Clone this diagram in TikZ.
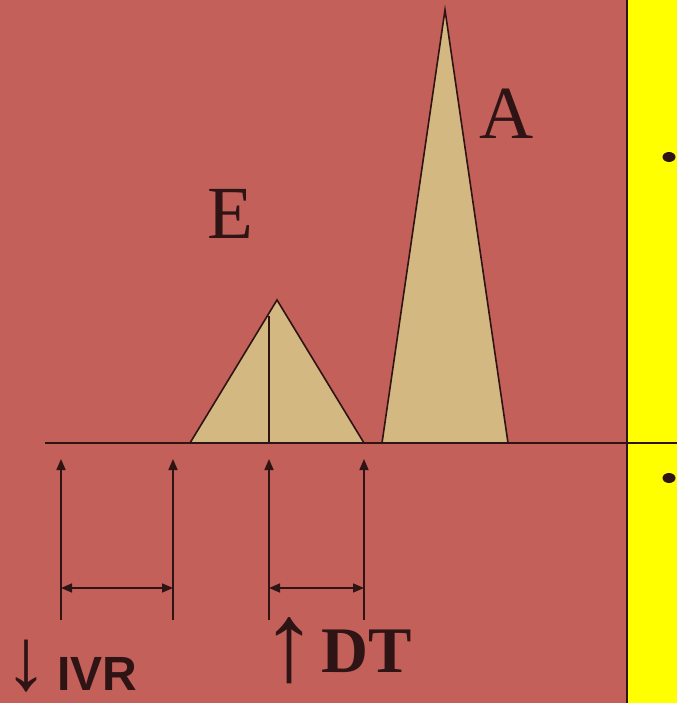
\documentclass[tikz,border=0pt]{standalone}
\usepackage{fontspec}
\setmainfont{Liberation Serif}
\newfontfamily\arialfont{Liberation Sans}
\usetikzlibrary{arrows.meta}
\definecolor{bgred}{RGB}{195,96,90}
\definecolor{peak}{RGB}{212,184,130}
\definecolor{ink}{RGB}{46,20,20}
\definecolor{ylw}{RGB}{255,255,0}
\tikzset{
  ink line/.style={draw=ink, line width=1.6pt},
  peak shape/.style={ink line, fill=peak, line join=miter},
  marker/.style={ink line, -{Triangle[length=11pt,width=9pt]}},
  span/.style={ink line, {Triangle[length=11pt,width=9pt]}-{Triangle[length=11pt,width=9pt]}},
  biglabel/.style={text=ink, font=\fontsize{75}{75}\selectfont, anchor=base, inner sep=0pt},
}
\begin{document}
\begin{tikzpicture}[x=1pt,y=-1pt]
\useasboundingbox (0,0) rectangle (677,703);
\fill[bgred] (0,0) rectangle (627,703);
\fill[ylw] (627,0) rectangle (677,703);
% peaks
\draw[peak shape] (190,443) -- (277,300) -- (364,443);
\draw[ink line] (269,316) -- (269,443);
\draw[peak shape] (382,443) -- (445,10) -- (508,443);
% baseline and divider
\draw[ink line] (45,443) -- (677,443);
\draw[ink line] (627,0) -- (627,703);
% labels
\node[biglabel] (E) at (230,238) {E};
\node[biglabel] (A) at (507,139) {A};
% markers
\coordinate (m1b) at (61,620); \coordinate (m1t) at (61,459);
\coordinate (m2b) at (173,620); \coordinate (m2t) at (173,459);
\coordinate (m3b) at (269,620); \coordinate (m3t) at (269,459);
\coordinate (m4b) at (364,620); \coordinate (m4t) at (364,459);
\draw[marker] (m1b) -- (m1t);
\draw[marker] (m2b) -- (m2t);
\draw[marker] (m3b) -- (m3t);
\draw[marker] (m4b) -- (m4t);
\coordinate (s1a) at (61,588); \coordinate (s1b) at (173,588);
\coordinate (s2a) at (269,588); \coordinate (s2b) at (364,588);
\draw[span] (s1a) -- (s1b);
\draw[span] (s2a) -- (s2b);
% bottom labels
\node[text=ink, anchor=base, inner sep=0pt, font=\fontsize{88}{88}\selectfont] (dn) at (27,689) {\smash{↓}};
\node[text=ink, anchor=base west, inner sep=0pt, font=\arialfont\bfseries\fontsize{48}{48}\selectfont] (ivr) at (57,690) {IVR};
\node[text=ink, anchor=base, inner sep=0pt, font=\fontsize{112}{112}\selectfont] (up) at (289,680) {↑};
\node[text=ink, anchor=base west, inner sep=0pt, font=\bfseries\fontsize{65}{65}\selectfont] (dt) at (321,672) {DT};
% bullets
\fill[ink] (669,157) ellipse (6.5 and 5);
\fill[ink] (669,478) ellipse (6.5 and 5);
\end{tikzpicture}
\end{document}
